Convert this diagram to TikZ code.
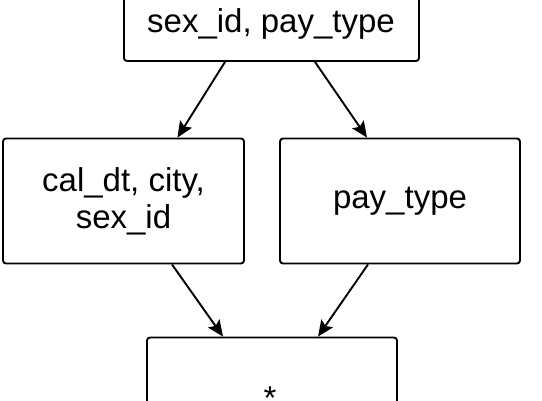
\documentclass[tikz,border=0pt]{standalone}
\usepackage{fontspec}
\setmainfont{Liberation Sans}
\usetikzlibrary{arrows.meta}
\begin{document}
\begin{tikzpicture}[x=1pt,y=-1pt,line width=1.9pt,
  every node/.style={font=\fontsize{33}{37}\selectfont,inner sep=0pt},
  box/.style={draw,rounded corners=3pt,minimum width=241pt,minimum height=125pt,align=center},
  arr/.style={-{Stealth[length=16pt,width=14pt,inset=3pt]}}]
  \path[use as bounding box] (0,0) rectangle (542,400);
  \node[box,minimum width=295pt] (top) at (271.5,-1.5) {};
  \node[anchor=base] (toptxt) at (271,32) {sex\_id, pay\_type};
  \node[box] (left) at (123.5,201) {cal\_dt, city,\\sex\_id};
  \node[box,minimum width=240pt] (right) at (400,201) {pay\_type};
  \node[box,minimum width=250pt] (bottom) at (272,400) {};
  \node[anchor=north] (star) at (270,386) {*};
  \draw[arr] ([xshift=-46.5pt]top.south) -- ([xshift=54pt]left.north);
  \draw[arr] ([xshift=43.5pt]top.south) -- ([xshift=-33pt]right.north);
  \draw[arr] ([xshift=48.5pt]left.south) -- ([xshift=-49pt]bottom.north);
  \draw[arr] ([xshift=-32pt]right.south) -- ([xshift=46pt]bottom.north);
\end{tikzpicture}
\end{document}
